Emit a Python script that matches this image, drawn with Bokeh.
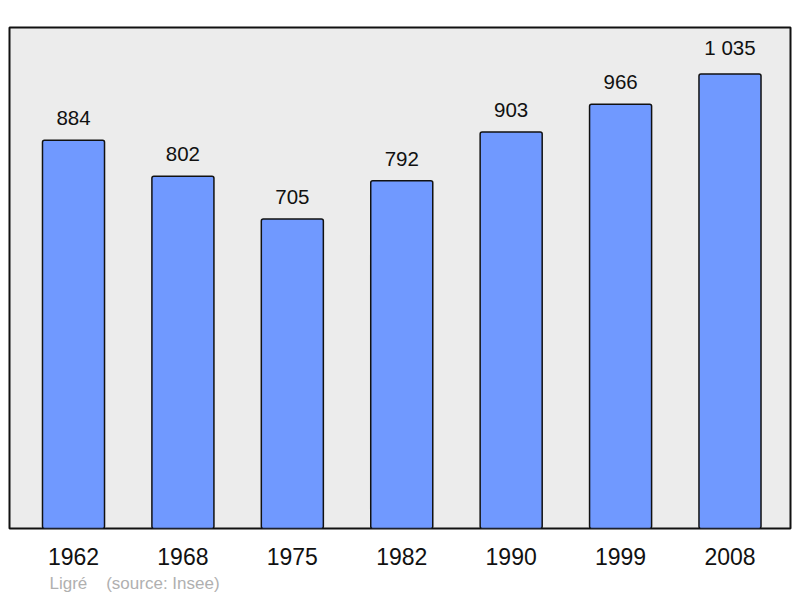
from bokeh.plotting import figure
from bokeh.models import ColumnDataSource, FixedTicker, Range1d, Title
from bokeh.core.properties import value
from bokeh.embed import file_html
from bokeh.resources import INLINE

# population data
years = ["1962", "1968", "1975", "1982", "1990", "1999", "2008"]
population = [884, 802, 705, 792, 903, 966, 1035]
pop_labels = ["884", "802", "705", "792", "903", "966", "1 035"]

positions = list(range(len(years)))
source = ColumnDataSource(data=dict(x=positions, pop=population, label=pop_labels))

FONT = "Liberation Sans"

p = figure(
    width=792, height=597,
    x_range=Range1d(-0.585, 6.553), y_range=Range1d(0, 1141),
    output_backend="svg", toolbar_location=None,
    min_border_left=9, min_border_right=2, min_border_top=27, min_border_bottom=10,
)
p.background_fill_color = "#ececec"
p.border_fill_color = "white"
p.outline_line_color = "#111111"
p.outline_line_width = 2
p.xgrid.visible = False
p.ygrid.visible = False
p.yaxis.visible = False

p.vbar(x="x", top="pop", width=0.567, source=source,
       fill_color="#7099ff", line_color="#111111", line_width=1.5,
       border_radius=2)

p.text(x="x", y="pop", text="label", source=source,
       text_align="center", text_baseline="bottom", y_offset=-15,
       text_font=value(FONT), text_font_size="20.5px", text_color="#111111")

# year labels on the x axis
p.xaxis.ticker = FixedTicker(ticks=positions)
p.xaxis.major_label_overrides = {i: y for i, y in enumerate(years)}
p.xaxis.axis_line_color = None
p.xaxis.major_tick_line_color = None
p.xaxis.minor_tick_line_color = None
p.xaxis.major_tick_out = 0
p.xaxis.major_label_standoff = 19
p.xaxis.major_label_text_font = FONT
p.xaxis.major_label_text_font_size = "23px"
p.xaxis.major_label_text_color = "#111111"

# source line under the axis
footer = Title(text="Ligré\u00a0\u00a0\u00a0\u00a0(source: Insee)", align="left", offset=40,
               text_font=FONT, text_font_size="17px", text_font_style="normal",
               text_color="#b0b0b0", standoff=9)
p.add_layout(footer, "below")

open("out.html", "w").write(file_html(p, INLINE))
